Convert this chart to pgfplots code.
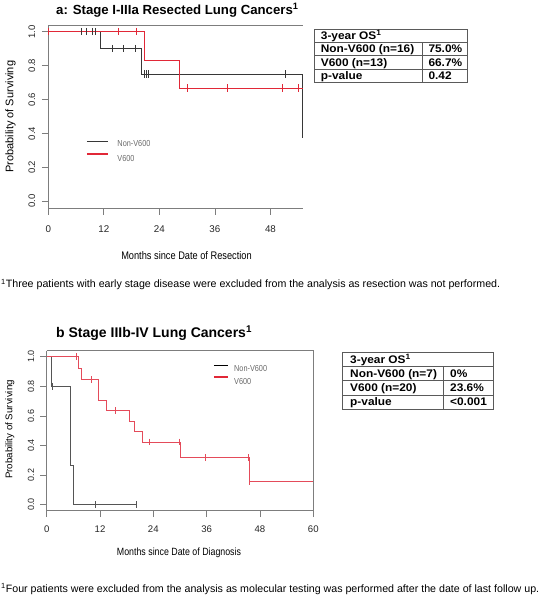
\documentclass[border=0pt]{standalone}
\usepackage{pgfplots}
\pgfplotsset{compat=1.18}
\usepackage{fontspec}
\setmainfont{Liberation Sans}
\newfontfamily\condf{Liberation Sans}[FakeStretch=0.84]
\newfontfamily\tabf{Liberation Sans}[FakeStretch=1.08]
\definecolor{kmred}{RGB}{225,40,55}
\definecolor{kmredb}{RGB}{228,75,90}
\definecolor{kmblack}{RGB}{55,55,55}
\definecolor{kmblackb}{RGB}{85,85,85}
\definecolor{axgray}{RGB}{125,125,125}
\definecolor{leggray}{RGB}{105,105,105}
\definecolor{tabline}{RGB}{90,90,90}

\pgfplotsset{
  kmaxis/.style={
    scale only axis, anchor=south west,
    ymin=-0.04, ymax=1.04,
    axis x line*=bottom, axis y line*=left,
    axis line style={axgray, line width=0.7pt},
    tick style={axgray, line width=0.7pt},
    tick align=outside,
    major tick length=6.5pt,
    ytick={0,0.2,0.4,0.6,0.8,1.0},
    yticklabels={0.0,0.2,0.4,0.6,0.8,1.0},
    /pgf/number format/assume math mode=true,
    xticklabel style={anchor=north, inner sep=0pt, text=black!85},
    yticklabel style={rotate=90, anchor=south, inner sep=0pt, text=black!85},
    clip mode=individual,
    legend cell align=left,
  },
}

\begin{document}
\begin{tikzpicture}[x=1pt,y=1pt]
\useasboundingbox (0,0) rectangle (542,600);

% ---------- Panel a ----------
\node[anchor=base west, inner sep=0pt, font=\bfseries\fontsize{13.2}{14}\selectfont] at (56,585.7) {a: Stage I-IIIa Resected Lung Cancers\textsuperscript{1}};

\begin{axis}[kmaxis,
  at={(48.3pt,391.9pt)}, width=254.6pt, height=183.2pt,
  xmin=0, xmax=55, xtick={0,12,24,36,48},
  xticklabel shift=11pt, yticklabel shift=6.3pt,
  xticklabel style={font=\fontsize{9.8}{10}\selectfont},
  yticklabel style={font=\fontsize{9.5}{10}\selectfont},
  legend style={draw=none, fill=none, at={(rel axis cs:0.148,0.372)}, anchor=north west,
    font=\condf\fontsize{8.7}{9}\selectfont, text=leggray, inner sep=0pt, row sep=7pt, column sep=9pt,
    nodes={inner sep=0pt, text height=6pt, text depth=0pt}},
]
\draw[axgray, line width=0.7pt] (rel axis cs:0,1) -- (rel axis cs:1,1);
\addplot[const plot, kmblack, line width=0.8pt, legend image code/.code={\draw[kmblack, line width=1.6pt] (0pt,1.5pt) -- (20.7pt,1.5pt);}]
  coordinates {(0,1) (11.2,0.9) (20.1,0.75) (54.9,0.375) (55,0.375)};
\addlegendentry{Non-V600}
\addplot[const plot, kmred, line width=0.8pt, legend image code/.code={\draw[kmred, line width=1.6pt] (0pt,4.5pt) -- (20.7pt,4.5pt);}]
  coordinates {(0,1) (20.7,0.833) (28.3,0.667) (55,0.667)};
\addlegendentry{V600}
\addplot[only marks, mark=|, mark size=3.8pt, kmblack, mark options={line width=0.6pt}, forget plot]
  coordinates {(7.2,1) (8.3,1) (9.4,1) (10.2,1) (13.9,0.9) (16.2,0.9) (18.9,0.9)
               (20.7,0.75) (21.2,0.75) (21.7,0.75) (51.1,0.75)};
\addplot[only marks, mark=|, mark size=3.8pt, kmred, mark options={line width=0.6pt}, forget plot]
  coordinates {(0.1,1) (15.1,1) (19.1,1) (30.0,0.667) (38.7,0.667) (50.5,0.667) (54.0,0.667)};
\end{axis}

\node[anchor=base, font=\condf\fontsize{11}{12}\selectfont] at (186.5,340) {Months since Date of Resection};
\node[anchor=base, rotate=90, font=\fontsize{11}{12}\selectfont] at (13.3,483.3) {Probability of Surviving};

% table a
\draw[tabline, line width=0.7pt] (314.3,571) rectangle (467.7,517.3);
\draw[tabline, line width=0.7pt] (314.3,557.6) -- (467.7,557.6) (314.3,544.2) -- (467.7,544.2) (314.3,530.7) -- (467.7,530.7) (422.7,557.6) -- (422.7,517.3);
\begin{scope}[every node/.style={anchor=base west, inner sep=0pt, font=\tabf\bfseries\fontsize{11}{12}\selectfont}]
\node at (320.7,560.6) {3-year OS\textsuperscript{1}};
\node at (320.7,547.2) {Non-V600 (n=16)};
\node at (428.3,547.2) {75.0\%};
\node at (320.7,533.7) {V600 (n=13)};
\node at (428.3,533.7) {66.7\%};
\node at (320.7,520.3) {p-value};
\node at (428.3,520.3) {0.42};
\end{scope}

\node[anchor=base west, inner sep=0pt, font=\fontsize{10.65}{12}\selectfont] at (1,312) {\textsuperscript{1}Three patients with early stage disease were excluded from the analysis as resection was not performed.};

% ---------- Panel b ----------
\node[anchor=base west, inner sep=0pt, font=\bfseries\fontsize{14}{15}\selectfont] at (56,262.7) {b Stage IIIb-IV Lung Cancers\textsuperscript{1}};

\begin{axis}[kmaxis,
  at={(46.7pt,89.4pt)}, width=266.6pt, height=159.8pt,
  xmin=0, xmax=60, xtick={0,12,24,36,48,60},
  xticklabel shift=8.6pt, yticklabel shift=5.7pt,
  xticklabel style={font=\fontsize{9.6}{10}\selectfont},
  yticklabel style={font=\fontsize{9}{10}\selectfont},
  legend style={draw=none, fill=none, at={(rel axis cs:0.623,0.915)}, anchor=north west,
    font=\condf\fontsize{8.7}{9}\selectfont, text=leggray, inner sep=0pt, row sep=4.5pt, column sep=5.6pt,
    nodes={inner sep=0pt, text height=5.5pt, text depth=0pt}},
]
\draw[axgray, line width=0.7pt] (rel axis cs:0,1) -- (rel axis cs:1,1) -- (rel axis cs:1,0);
\addplot[const plot, kmblackb, line width=0.8pt, legend image code/.code={\draw[black, line width=1.6pt] (0pt,3.5pt) -- (14pt,3.5pt);}]
  coordinates {(0,1) (1.1,0.8) (5.3,0.267) (6.0,0) (20.2,0)};
\addlegendentry{Non-V600}
\addplot[const plot, kmredb, line width=0.8pt, legend image code/.code={\draw[kmred, line width=1.6pt] (0pt,5pt) -- (14pt,5pt);}]
  coordinates {(0,1) (7.2,0.923) (7.9,0.846) (11.6,0.705) (13.5,0.635) (18.7,0.564) (19.8,0.494)
               (21.6,0.423) (30.1,0.317) (45.6,0.159) (60,0.159)};
\addlegendentry{V600}
\addplot[only marks, mark=|, mark size=3.4pt, kmblackb, mark options={line width=0.6pt}, forget plot]
  coordinates {(1.3,0.8) (10.9,0) (20.2,0)};
\addplot[only marks, mark=|, mark size=3.4pt, kmredb, mark options={line width=0.6pt}, forget plot]
  coordinates {(6.75,1) (10.1,0.846) (15.4,0.635) (23.2,0.423) (29.8,0.423) (35.8,0.317) (45.4,0.317) (45.7,0.159)};
\end{axis}

\node[anchor=base, font=\condf\fontsize{10.5}{12}\selectfont] at (179,44) {Months since Date of Diagnosis};
\node[anchor=base, rotate=90, font=\fontsize{9.7}{11}\selectfont] at (12.5,170.5) {Probability of Surviving};

% table b
\draw[tabline, line width=0.7pt] (342.3,247.5) rectangle (493.7,191);
\draw[tabline, line width=0.7pt] (342.3,233.4) -- (493.7,233.4) (342.3,219.2) -- (493.7,219.2) (342.3,205.1) -- (493.7,205.1) (443.3,233.4) -- (443.3,191);
\begin{scope}[every node/.style={anchor=base west, inner sep=0pt, font=\tabf\bfseries\fontsize{11}{12}\selectfont}]
\node at (350,236.6) {3-year OS\textsuperscript{1}};
\node at (350,222.4) {Non-V600 (n=7)};
\node at (450,222.4) {0\%};
\node at (350,208.3) {V600 (n=20)};
\node at (450,208.3) {23.6\%};
\node at (350,194.2) {p-value};
\node at (450,194.2) {<0.001};
\end{scope}

\node[anchor=base west, inner sep=0pt, font=\fontsize{10.65}{12}\selectfont] at (1,8) {\textsuperscript{1}Four patients were excluded from the analysis as molecular testing was performed after the date of last follow up.};
\end{tikzpicture}
\end{document}
